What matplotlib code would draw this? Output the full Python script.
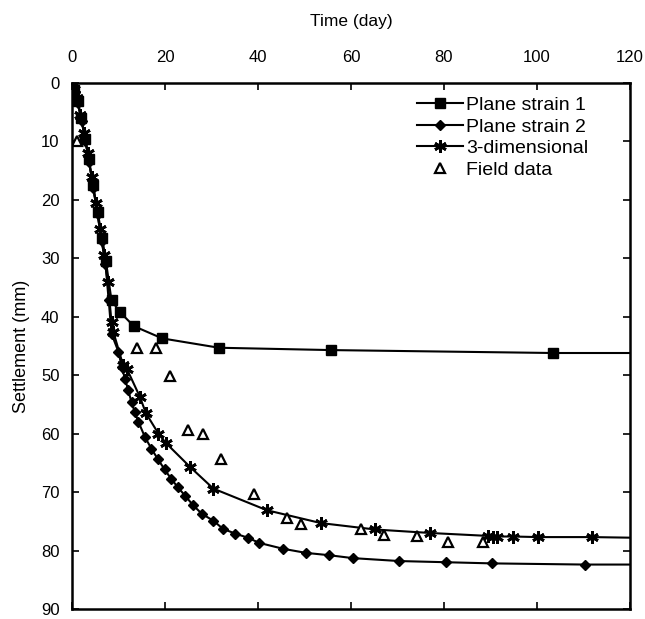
import numpy as np
import matplotlib.pyplot as plt

plt.rcParams['font.family'] = ['Liberation Sans', 'DejaVu Sans']

# Plane strain 1 (squares)
ps1_day = [0, 0.5, 1.2, 2.0, 2.8, 3.6, 4.5, 5.5, 6.5, 7.3, 8.5, 10.3, 13.3, 19.4, 31.6, 55.7, 103.4]
ps1_mm = [0, 1.2, 3.0, 6.0, 9.5, 13.0, 17.5, 22.0, 26.5, 30.5, 37.2, 39.2, 41.6, 43.7, 45.3, 45.7, 46.2]

# Plane strain 2 (diamonds)
ps2_day = [0, 0.6, 1.3, 2.1, 2.9, 3.7, 4.6, 5.5, 6.4, 7.2, 7.9, 8.5, 10.0, 10.7, 11.4, 12.1, 12.8,
           13.5, 14.3, 15.7, 17.1, 18.5, 19.9, 21.3, 22.8, 24.3, 26.0, 27.9, 30.4, 32.5, 35.1,
           37.8, 40.3, 45.4, 50.3, 55.3, 60.4, 70.4, 80.4, 90.3, 110.3]
ps2_mm = [0, 1.5, 3.5, 6.5, 10.0, 13.5, 18.0, 22.5, 27.0, 31.0, 37.2, 42.9, 46.0, 48.6, 50.6, 52.6, 54.6,
          56.3, 58.0, 60.6, 62.6, 64.4, 66.1, 67.7, 69.2, 70.6, 72.2, 73.7, 74.9, 76.3, 77.1,
          77.8, 78.7, 79.7, 80.4, 80.8, 81.3, 81.8, 82.0, 82.2, 82.4]

# 3-dimensional (asterisks)
d3_day = [0, 0.4, 1.0, 1.8, 2.6, 3.4, 4.2, 5.1, 6.0, 6.9, 7.7, 8.5, 8.9, 11.0, 11.8, 14.6, 15.9,
          18.6, 20.2, 25.4, 30.4, 41.9, 53.5, 65.2, 77.1, 89.5, 90.5, 91.5, 94.8, 100.3, 111.8]
d3_mm = [0, 1.0, 2.5, 5.5, 8.5, 12.0, 16.0, 20.5, 25.0, 29.5, 34.0, 40.9, 42.6, 48.3, 48.9, 53.7, 56.5,
         60.0, 61.6, 65.7, 69.4, 73.1, 75.3, 76.4, 77.0, 77.5, 77.6, 77.6, 77.6, 77.7, 77.7]

# Field data (triangles)
fd_day = [1.0, 14.0, 18.1, 21.1, 25.0, 28.1, 32.0, 39.2, 46.3, 49.2, 62.1, 67.1, 74.1, 80.9, 88.3]
fd_mm = [10.0, 45.3, 45.3, 50.2, 59.3, 60.1, 64.4, 70.4, 74.4, 75.5, 76.4, 77.4, 77.5, 78.5, 78.5]

# line ends at the right axis
end_day = 120
ps1_end, ps2_end, d3_end = 46.2, 82.4, 77.8

fig = plt.figure(figsize=(6.45, 6.19), dpi=100)
ax = fig.add_axes([0.1116, 0.0162, 0.8651, 0.8497])

ax.plot(ps1_day + [end_day], ps1_mm + [ps1_end], color='black', lw=1.5)
ax.plot(ps2_day + [end_day], ps2_mm + [ps2_end], color='black', lw=1.5)
ax.plot(d3_day + [end_day], d3_mm + [d3_end], color='black', lw=1.5)

ax.plot(ps1_day, ps1_mm, ls='none', marker='s', ms=7, color='black')
ax.plot(ps2_day, ps2_mm, ls='none', marker='D', ms=5.5, color='black')
ax.plot(d3_day, d3_mm, ls='none', marker=(6, 2, 0), ms=9, mew=2, color='black')
ax.plot(fd_day, fd_mm, ls='none', marker='^', ms=6.5, mfc='white', mec='black', mew=1.6)

# legend handles
h1, = ax.plot([], [], color='black', lw=1.5, marker='s', ms=7, label='Plane strain 1')
h2, = ax.plot([], [], color='black', lw=1.5, marker='D', ms=5.5, label='Plane strain 2')
h3, = ax.plot([], [], color='black', lw=1.5, marker=(6, 2, 0), ms=9, mew=2, label='3-dimensional')
h4, = ax.plot([], [], ls='none', marker='^', ms=6.5, mfc='white', mec='black', mew=1.6, label='Field data')
ax.legend(handles=[h1, h2, h3, h4], loc='upper right', frameon=False, fontsize=14,
          handlelength=2.4, handletextpad=0.15, labelspacing=0.2, borderaxespad=0.3,
          bbox_to_anchor=(0.95, 1.0))

ax.set_xlim(0, 120)
ax.set_ylim(90, 0)
ax.set_xticks(np.arange(0, 121, 20))
ax.set_yticks(np.arange(0, 91, 10))
ax.xaxis.tick_top()
ax.xaxis.set_label_position('top')
ax.tick_params(direction='in', length=5, width=1.2, labelsize=12, top=True, bottom=True,
               left=True, right=True)
ax.tick_params(axis='x', pad=13)
ax.tick_params(axis='y', pad=9)
ax.set_xlabel('Time (day)', fontsize=12.5, labelpad=17)
ax.set_ylabel('Settlement (mm)', fontsize=13, labelpad=8)
for s in ax.spines.values():
    s.set_linewidth(1.8)

fig.savefig('out.png', dpi=100)
